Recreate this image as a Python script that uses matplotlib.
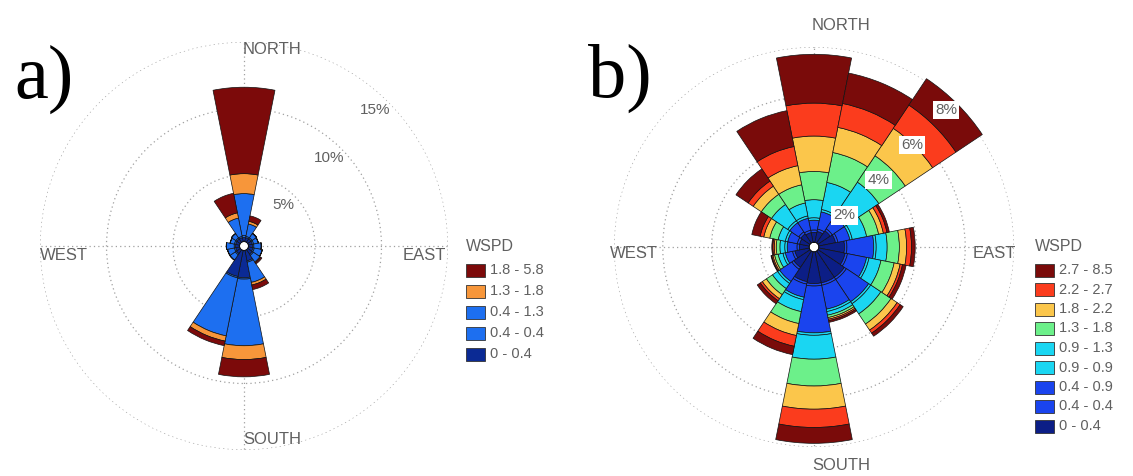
import numpy as np
import matplotlib.pyplot as plt
from matplotlib.patches import Rectangle

W_PX, H_PX = 1133, 476

directions = ["N", "NNE", "NE", "ENE", "E", "ESE", "SE", "SSE",
              "S", "SSW", "SW", "WSW", "W", "WNW", "NW", "NNW"]

# ---- panel a: frequency (%) per speed bin and direction ----
a_bins = ["0 - 0.4", "0.4 - 0.4", "0.4 - 1.3", "1.3 - 1.8", "1.8 - 5.8"]
a_colors = ["#0b2a94", "#1d6ff0", "#1d6ff0", "#f7963a", "#7c0a0a"]
a_0_04 = [0.3, 0.3, 0.3, 0.3, 0.3, 0.35, 0.4, 0.8, 2.05, 2.0, 0.35, 0.3, 0.3, 0.3, 0.3, 0.3]
a_04_04 = [0.15, 0.1, 0.1, 0.1, 0.1, 0.1, 0.1, 0.1, 0.1, 0.1, 0.1, 0.1, 0.1, 0.1, 0.1, 0.1]
a_04_13 = [3.15, 0.95, 0.38, 0.35, 0.55, 0.6, 0.6, 1.55, 5.01, 4.45, 0.48, 0.52, 0.58, 0.32, 0.38, 1.4]
a_13_18 = [1.5, 0.2, 0.02, 0.01, 0.01, 0.01, 0.07, 0.2, 1.04, 0.4, 0.01, 0.01, 0.01, 0.01, 0.01, 0.4]
a_18_58 = [6.5, 0.42, 0.02, 0.01, 0.01, 0.01, 0.11, 0.35, 1.3, 0.35, 0.01, 0.01, 0.01, 0.01, 0.01, 1.5]
a_freqs = [a_0_04, a_04_04, a_04_13, a_13_18, a_18_58]
a_rings = [5, 10, 15]

# ---- panel b ----
b_bins = ["0 - 0.4", "0.4 - 0.4", "0.4 - 0.9", "0.9 - 0.9", "0.9 - 1.3",
          "1.3 - 1.8", "1.8 - 2.2", "2.2 - 2.7", "2.7 - 8.5"]
b_colors = ["#0c1e86", "#1a44ee", "#1a44ee", "#1ad6f2", "#1ad6f2",
            "#6cf08a", "#fbc64b", "#fb3c1d", "#7a0b0a"]
b_0_04 = [0.4, 0.45, 0.6, 0.7, 1.05, 1.1, 1.3, 1.3, 1.3, 1.25, 0.8, 0.6, 0.4, 0.4, 0.45, 0.4]
b_04_04 = [0.1] * 16
b_04_09 = [0.4, 0.72, 0.6, 0.5, 1.1, 0.8, 1.1, 1.0, 1.92, 0.55, 0.6, 0.3, 0.4, 0.4, 0.45, 0.5]
b_09_09 = [0.1] * 16
b_09_13 = [0.74, 1.13, 1.6, 0.6, 0.45, 0.5, 0.5, 0.15, 0.98, 0.5, 0.25, 0.2, 0.2, 0.3, 0.8, 0.54]
b_13_18 = [1.16, 1.25, 1.3, 0.5, 0.5, 0.55, 0.5, 0.1, 1.1, 0.5, 0.3, 0.15, 0.15, 0.35, 0.5, 0.76]
b_18_22 = [1.45, 1.05, 1.35, 0.2, 0.3, 0.25, 0.3, 0.07, 0.95, 0.5, 0.2, 0.07, 0.08, 0.25, 0.4, 0.8]
b_22_27 = [1.35, 1.0, 1.15, 0.15, 0.2, 0.1, 0.15, 0.06, 0.75, 0.45, 0.1, 0.05, 0.06, 0.15, 0.25, 0.8]
b_27_85 = [2.0, 1.27, 1.3, 0.1, 0.15, 0.15, 0.15, 0.07, 0.65, 0.35, 0.15, 0.03, 0.04, 0.35, 0.6, 1.5]
b_freqs = [b_0_04, b_04_04, b_04_09, b_09_09, b_09_13, b_13_18, b_18_22, b_22_27, b_27_85]
b_rings = [2, 4, 6, 8]

theta = np.deg2rad(np.arange(len(directions)) * 22.5)
width = 2 * np.pi / len(directions)
grey = "#606060"


def fx(x):
    return x / W_PX


def fy(y):
    return 1 - y / H_PX


def rose(ax, freqs, colors, rings, rorigin, rmax):
    ax.set_theta_zero_location("N")
    ax.set_theta_direction(-1)
    bottom = np.zeros(len(directions))
    for vals, col in zip(freqs, colors):
        ax.bar(theta, vals, width=width, bottom=bottom, color=col,
               edgecolor="#111111", linewidth=0.5, zorder=3, clip_on=False)
        bottom += np.array(vals)
    ax.set_rorigin(rorigin)
    ax.set_ylim(0, rmax)
    ax.set_rgrids(rings, labels=[""] * len(rings))
    ax.set_thetagrids([0, 90, 180, 270], labels=[""] * 4)
    ax.grid(True, color="#a0a0a0", linestyle=(0, (1, 2.5)), linewidth=0.9)
    ax.spines["polar"].set_visible(False)
    ax.set_facecolor("none")


def legend(title, labels, colors, x0, y0, dy):
    fig.text(fx(x0), fy(y0), title, fontsize=11.5, color=grey,
             family="Liberation Sans", va="center")
    for i, (lab, col) in enumerate(zip(labels[::-1], colors[::-1])):
        yc = y0 + 24 + i * dy
        fig.add_artist(Rectangle((fx(x0), fy(yc + 6.5)), fx(19), 13 / H_PX,
                                 transform=fig.transFigure, facecolor=col,
                                 edgecolor="#333333", linewidth=0.6))
        fig.text(fx(x0 + 24), fy(yc), lab, fontsize=10.5, color=grey,
                 family="Liberation Sans", va="center")


fig = plt.figure(figsize=(W_PX / 100, H_PX / 100), dpi=100)

# panel a
ax_a = fig.add_axes([fx(244 - 204), fy(246 + 204), 408 / W_PX, 408 / H_PX],
                    projection="polar")
rose(ax_a, a_freqs, a_colors, a_rings, -0.34, 15)
for r in a_rings:
    ax_a.text(np.deg2rad(44), r - 1.1, f"{r}%", fontsize=11, color=grey,
              family="Liberation Sans", ha="center", va="center", zorder=5)
fig.text(fx(243), fy(50), "NORTH", fontsize=12, color=grey, family="Liberation Sans",
         ha="left", va="center")
fig.text(fx(243), fy(440), "SOUTH", fontsize=12, color=grey, family="Liberation Sans",
         ha="left", va="center")
fig.text(fx(40), fy(255), "WEST", fontsize=12, color=grey, family="Liberation Sans",
         ha="left", va="center")
fig.text(fx(446), fy(255), "EAST", fontsize=12, color=grey, family="Liberation Sans",
         ha="right", va="center")
legend("WSPD", a_bins, a_colors, 466, 246, 21)
fig.text(fx(14), fy(98), "a)", fontsize=55, family="Liberation Serif",
         ha="left", va="baseline")

# panel b
ax_b = fig.add_axes([fx(814 - 200), fy(247 + 200), 400 / W_PX, 400 / H_PX],
                    projection="polar")
rose(ax_b, b_freqs, b_colors, b_rings, -0.2, 8)
for r in b_rings:
    ax_b.text(np.deg2rad(44), r - 0.4, f"{r}%", fontsize=11, color=grey,
              family="Liberation Sans", ha="center", va="center", zorder=5,
              bbox=dict(facecolor="white", edgecolor="none", pad=1.5))
fig.text(fx(812), fy(25), "NORTH", fontsize=12, color=grey, family="Liberation Sans",
         ha="left", va="center")
fig.text(fx(812), fy(465), "SOUTH", fontsize=12, color=grey, family="Liberation Sans",
         ha="left", va="center")
fig.text(fx(610), fy(254), "WEST", fontsize=12, color=grey, family="Liberation Sans",
         ha="left", va="center")
fig.text(fx(1016), fy(254), "EAST", fontsize=12, color=grey, family="Liberation Sans",
         ha="right", va="center")
legend("WSPD", b_bins, b_colors, 1035, 246, 19.5)
fig.text(fx(588), fy(97), "b)", fontsize=55, family="Liberation Serif",
         ha="left", va="baseline")

fig.savefig("out.png", dpi=100)
